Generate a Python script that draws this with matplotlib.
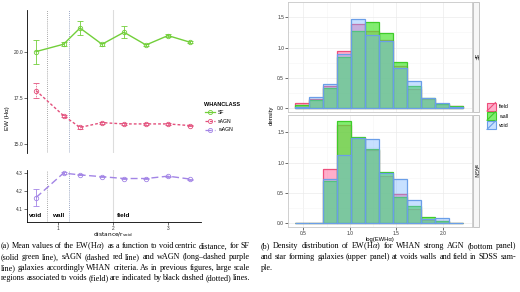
import matplotlib
matplotlib.use("Agg")
import matplotlib.pyplot as plt
import numpy as np
from matplotlib.patches import Rectangle
from matplotlib.lines import Line2D

plt.rcParams['font.family'] = ['Liberation Sans', 'DejaVu Sans']
plt.rcParams['mathtext.fontset'] = 'stix'

W, H = 520, 292

# ---------------- data: left panel ----------------
dist = [0.6, 1.1, 1.4, 1.8, 2.2, 2.6, 3.0, 3.4]
sf_ew = [20.02, 20.42, 21.30, 20.42, 21.07, 20.38, 20.89, 20.53]
sf_err = [0.65, 0.10, 0.40, 0.08, 0.33, 0.06, 0.06, 0.04]
sagn_ew = [17.90, 16.54, 15.90, 16.16, 16.09, 16.09, 16.09, 16.00]
sagn_err = [0.40, 0.05, 0.06, 0.05, 0.04, 0.04, 0.04, 0.04]
wagn_ew = [4.165, 4.300, 4.290, 4.280, 4.270, 4.270, 4.283, 4.267]
wagn_err = [0.045, 0.004, 0.003, 0.003, 0.003, 0.003, 0.003, 0.003]
region_lines = [0.8, 1.2, 2.0]
region_labels = ["void", "wall", "field"]
region_label_x = [0.6, 1.0, 2.2]
classes = ["SF", "sAGN", "wAGN"]

# ---------------- data: right panel ----------------
bin_edges = [0.41, 0.56, 0.71, 0.86, 1.01, 1.16, 1.31, 1.46, 1.61, 1.76, 1.91, 2.06, 2.21]
sf_field = [0.09, 0.15, 0.36, 0.95, 1.38, 1.27, 1.12, 0.69, 0.32, 0.16, 0.07, 0.04]
sf_wall = [0.06, 0.14, 0.33, 0.85, 1.27, 1.42, 1.24, 0.77, 0.36, 0.17, 0.07, 0.04]
sf_void = [0.03, 0.18, 0.40, 0.89, 1.47, 1.21, 1.11, 0.67, 0.45, 0.17, 0.09, 0.02]
sagn_field = [0.0, 0.0, 0.89, 1.62, 1.40, 1.20, 0.78, 0.47, 0.23, 0.05, 0.03, 0.0]
sagn_wall = [0.0, 0.0, 0.70, 1.69, 1.43, 1.22, 0.85, 0.42, 0.28, 0.10, 0.03, 0.0]
sagn_void = [0.0, 0.0, 0.72, 1.12, 1.41, 1.39, 0.83, 0.73, 0.38, 0.06, 0.08, 0.0]
env_names = ["field", "wall", "void"]
facet_names = ["SF", "sAGN"]

c_sf, c_sagn, c_wagn = '#72CF3A', '#E3507C', '#A385E6'
env_fill = ['#FF4D8C', '#4DE633', '#73B3FF']
env_alpha = [0.45, 0.7, 0.4]
env_edge = ['#EE4F7C', '#3FCC2A', '#6A9EE8']

fig = plt.figure(figsize=(W / 100, H / 100), dpi=100)

def fx(px):
    return px / W

def fy(py):
    return 1 - py / H

def axes_px(x0, y0, x1, y1):
    return fig.add_axes([fx(x0), fy(y1), fx(x1) - fx(x0), (y1 - y0) / H])

tick_kw = dict(length=2, width=0.5, labelsize=3.5, pad=0.8, colors='#333333')

# ---------------- left panel ----------------
ax1 = axes_px(27, 10, 201, 153)
ax2 = axes_px(27, 170, 201, 222)
for ax in (ax1, ax2):
    ax.set_xlim(0.436, 3.6)
    for s in ('top', 'right'):
        ax.spines[s].set_visible(False)
    ax.spines['left'].set_linewidth(0.6)
    ax.spines['bottom'].set_linewidth(0.6)
    ax.tick_params(**tick_kw)
    ax.axvline(region_lines[0], color='#8C8C8C', ls=(0, (1, 1.5)), lw=0.6, zorder=0)
    ax.axvline(region_lines[1], color='#7B8BB0', ls=(0, (1, 1.5)), lw=0.6, zorder=0)
    ax.axvline(region_lines[2], color='#DDDDDD', ls='-', lw=0.8, zorder=0)
ax1.spines['bottom'].set_visible(False)
ax1.set_xticks([])
ax1.set_ylim(14.51, 22.28)
ax1.set_yticks([15, 17.5, 20])
ax1.set_yticklabels(['15.0', '17.5', '20.0'])
ax2.set_ylim(4.03, 4.317)
ax2.set_yticks([4.1, 4.2, 4.3])
ax2.set_xticks([1, 2, 3])

ax1.errorbar(dist, sf_ew, yerr=sf_err, color=c_sf, lw=1.0, marker='o', ms=3.2,
             mfc='none', mew=0.6, elinewidth=0.6, capsize=2.2, capthick=0.6, zorder=3)
eb = ax1.errorbar(dist, sagn_ew, yerr=sagn_err, color=c_sagn, lw=1.0, ls=(0, (2, 1.5)),
                  marker='o', ms=3.2, mfc='none', mew=0.6, elinewidth=0.6, capsize=2.2,
                  capthick=0.6, zorder=3)
eb[2][0].set_linestyle((0, (1, 1)))
eb2 = ax2.errorbar(dist, wagn_ew, yerr=wagn_err, color=c_wagn, lw=1.0, ls=(0, (5, 2.5)),
                   marker='o', ms=3.2, mfc='none', mew=0.6, elinewidth=0.6, capsize=2.2,
                   capthick=0.6, zorder=3)
for lab, xx in zip(region_labels, region_label_x):
    ax2.text(xx, 4.064, lab, ha='center', va='center', fontsize=4.6, fontweight='bold')

fig.text(fx(113), fy(234.5), r'distance/r$_{\mathrm{void}}$', ha='center', va='center',
         fontsize=4.2, family=['DejaVu Sans'], math_fontfamily='dejavusans')
fig.text(fx(7), fy(118), 'EW (Hα)', rotation=90, ha='center', va='center', fontsize=4.4)

# left legend
fig.text(fx(204), fy(104), 'WHANCLASS', fontsize=4.0, fontweight='bold', va='center')
leg_styles = ['-', (0, (2, 1.5)), (0, (5, 2.5))]
for i, (name, col, st) in enumerate(zip(classes, [c_sf, c_sagn, c_wagn], leg_styles)):
    yy = fy(112.5 + 8.7 * i)
    fig.add_artist(Line2D([fx(205), fx(215)], [yy, yy], color=col, lw=0.9, ls=st,
                          transform=fig.transFigure))
    fig.add_artist(Line2D([fx(210)], [yy], color=col, marker='o', ms=3.0, mfc='none',
                          mew=0.6, transform=fig.transFigure))
    fig.text(fx(218), yy, name, fontsize=3.7, va='center')

# ---------------- right panel ----------------
bx1 = axes_px(288, 2, 472, 112)
bx2 = axes_px(288, 115, 472, 227.3)
edges = np.array(bin_edges)
widths = np.diff(edges)
panels = [(bx1, [sf_field, sf_wall, sf_void], (-0.06, 1.75)),
          (bx2, [sagn_field, sagn_wall, sagn_void], (-0.077, 1.79))]
for (ax, series, ylim), fname in zip(panels, facet_names):
    ax.set_xlim(0.336, 2.31)
    ax.set_ylim(*ylim)
    ax.set_yticks([0, 0.5, 1.0, 1.5])
    ax.set_yticklabels(['0.0', '0.5', '1.0', '1.5'])
    ax.set_xticks([0.5, 1.0, 1.5, 2.0])
    ax.set_xticks([0.75, 1.25, 1.75], minor=True)
    ax.set_yticks([0.25, 0.75, 1.25], minor=True)
    ax.grid(True, which='major', color='#EBEBEB', lw=0.5)
    ax.grid(True, which='minor', color='#F5F5F5', lw=0.4)
    ax.set_axisbelow(True)
    ax.tick_params(**tick_kw)
    ax.tick_params(which='minor', length=0)
    for s in ax.spines.values():
        s.set_color('#C8C8C8')
        s.set_linewidth(0.6)
    for vals, fc, a, ec in zip(series, env_fill, env_alpha, env_edge):
        ax.bar(edges[:-1], vals, width=widths, align='edge', color=fc, alpha=a, lw=0)
        ax.bar(edges[:-1], vals, width=widths, align='edge', fill=False, edgecolor=ec, lw=0.9)
    # strip
    pos = ax.get_position()
    fig.add_artist(Rectangle((pos.x1 + fx(0.5), pos.y0), fx(6), pos.height,
                             transform=fig.transFigure, facecolor='#F7F7F7',
                             edgecolor='#BBBBBB', lw=0.6))
    fig.text(pos.x1 + fx(3.5), (pos.y0 + pos.y1) / 2, fname, rotation=270, fontsize=3.7,
             ha='center', va='center')
bx1.tick_params(axis='x', labelbottom=False, length=0)
fig.text(fx(380), fy(239), 'log(EWHα)', ha='center', va='center', fontsize=4.2)
fig.text(fx(271), fy(115), 'density', rotation=90, ha='center', va='center', fontsize=4.4)

# right legend
for i, (name, fc, a, ec) in enumerate(zip(env_names, env_fill, env_alpha, env_edge)):
    y0 = 102.5 + 9.2 * i
    fig.add_artist(Rectangle((fx(487), fy(y0 + 8.5)), fx(8.5), 8.5 / H, transform=fig.transFigure,
                             facecolor=fc, alpha=a, lw=0))
    fig.add_artist(Rectangle((fx(487), fy(y0 + 8.5)), fx(8.5), 8.5 / H, transform=fig.transFigure,
                             fill=False, edgecolor=ec, lw=0.8))
    fig.add_artist(Line2D([fx(487), fx(495.5)], [fy(y0 + 8.5), fy(y0)], color=ec, lw=0.8,
                          transform=fig.transFigure))
    fig.text(fx(499), fy(y0 + 4.5), name, fontsize=3.7, va='center')

# ---------------- captions ----------------
cap_a = ["(a) Mean values of the EW(H$\\alpha$) as a function to void centric distance, for SF",
         "(solid green line), sAGN (dashed red line) and wAGN (long–dashed purple",
         "line) galaxies accordingly WHAN criteria. As in previous figures, large scale",
         "regions associated to voids (field) are indicated by black dashed (dotted) lines."]
cap_b = ["(b) Density distribution of EW(H$\\alpha$) for WHAN strong AGN (bottom panel)",
         "and star forming galaxies (upper panel) at voids walls and field in SDSS sam-",
         "ple."]

renderer = fig.canvas.get_renderer()
cap_fs = 5.9

def justified(lines, x0, x1, base0, dy, justify_last):
    sp = None
    for i, line in enumerate(lines):
        words = line.split(' ')
        yb = fy(base0 + dy * i)
        texts = [fig.text(0, yb, w, fontsize=cap_fs, family=['Liberation Serif', 'DejaVu Serif'],
                          va='baseline') for w in words]
        wds = [t.get_window_extent(renderer).width for t in texts]
        if sp is None:
            tt = fig.text(0, 0, 'a a', fontsize=cap_fs, family=['Liberation Serif'])
            t2 = fig.text(0, 0, 'aa', fontsize=cap_fs, family=['Liberation Serif'])
            sp = tt.get_window_extent(renderer).width - t2.get_window_extent(renderer).width
            tt.remove(); t2.remove()
        last = (i == len(lines) - 1)
        if (not last or justify_last) and len(words) > 1:
            gap = ((x1 - x0) - sum(wds)) / (len(words) - 1)
        else:
            gap = sp
        x = x0
        for t, w in zip(texts, wds):
            t.set_x(fx(x))
            x += w + gap

justified(cap_a, 1, 250, 248.5, 10.6, True)
justified(cap_b, 261, 516, 248.5, 10.6, False)

fig.savefig('out.png', dpi=100)
